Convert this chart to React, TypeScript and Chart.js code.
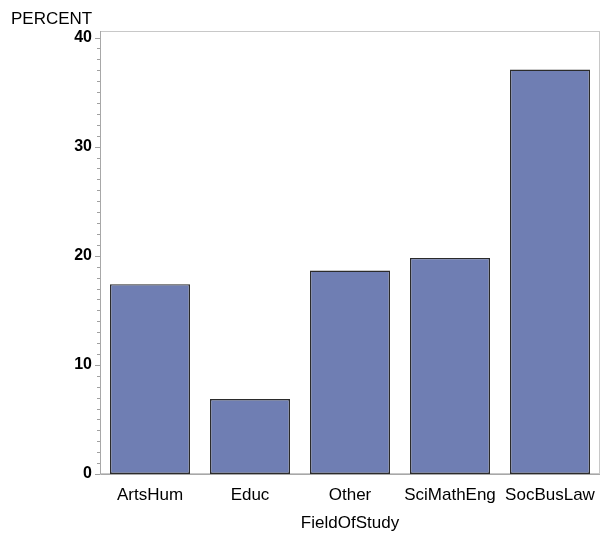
import React, { useEffect, useRef } from "react";
import { Chart, registerables } from "chart.js";

Chart.register(...registerables);

const categories = ["ArtsHum", "Educ", "Other", "SciMathEng", "SocBusLaw"];
const percents = [17.4, 6.87, 18.64, 19.8, 37.07];
const majorTicks = [0, 10, 20, 30, 40];
const yMax = 40.6;
const minorStep = 1;
const yTitle = "PERCENT";
const xTitle = "FieldOfStudy";

const FONT = "'Liberation Sans', Arial, sans-serif";

const framePlugin = {
  id: "frameTicks",
  beforeDatasetsDraw(chart: any) {
    const { ctx, chartArea } = chart;
    const y = chart.scales.y;
    ctx.save();
    ctx.strokeStyle = "#C8C8C8";
    ctx.lineWidth = 1;
    ctx.strokeRect(chartArea.left + 0.5, chartArea.top + 0.5, chartArea.right - chartArea.left - 1, chartArea.bottom - chartArea.top - 1);
    ctx.strokeStyle = "#A8A8A8";
    ctx.beginPath();
    ctx.moveTo(chartArea.left + 0.5, chartArea.top);
    ctx.lineTo(chartArea.left + 0.5, chartArea.bottom + 0.5);
    ctx.lineTo(chartArea.right, chartArea.bottom + 0.5);
    ctx.stroke();
    ctx.strokeStyle = "#A0A0A0";
    const last = majorTicks[majorTicks.length - 1];
    for (let v = 0; v <= last + 1e-9; v += minorStep) {
      const py = Math.round(y.getPixelForValue(v)) + 0.5;
      const isMajor = majorTicks.includes(Math.round(v));
      const len = isMajor ? 5 : 3;
      ctx.beginPath();
      ctx.moveTo(chartArea.left - len, py);
      ctx.lineTo(chartArea.left, py);
      ctx.stroke();
    }
    ctx.restore();
  },
  afterDraw(chart: any) {
    const { ctx } = chart;
    ctx.save();
    ctx.fillStyle = "#000";
    ctx.font = `17px ${FONT}`;
    ctx.textBaseline = "alphabetic";
    ctx.textAlign = "left";
    ctx.fillText(yTitle, 11, 24);
    ctx.restore();
  },
};

export default function App() {
  const ref = useRef<HTMLCanvasElement>(null);
  useEffect(() => {
    if (!ref.current) return;
    const chart = new Chart(ref.current, {
      type: "bar",
      data: {
        labels: categories,
        datasets: [
          {
            data: percents,
            backgroundColor: "#6F7EB3",
            borderColor: "#2B2B2B",
            borderWidth: 1.4,
            borderSkipped: false,
            barPercentage: 0.8,
            categoryPercentage: 1.0,
          },
        ],
      },
      options: {
        animation: false,
        responsive: false,
        layout: { padding: { top: 31, right: 0, left: 0, bottom: 0 } },
        plugins: {
          legend: { display: false },
          tooltip: { enabled: false },
        },
        scales: {
          x: {
            grid: { display: false, drawTicks: false },
            border: { display: false },
            ticks: {
              color: "#000",
              font: { family: FONT, size: 17 },
              padding: 11,
              maxRotation: 0,
              autoSkip: false,
            },
            title: {
              display: true,
              text: xTitle,
              color: "#000",
              font: { family: FONT, size: 17 },
              padding: { top: 4, bottom: 4 },
            },
            afterFit(scale: any) {
              scale.height = 64;
              scale.paddingLeft = 0;
              scale.paddingRight = 0;
            },
          },
          y: {
            min: 0,
            max: yMax,
            grid: { display: false, drawTicks: false },
            border: { display: false },
            afterBuildTicks(scale: any) {
              scale.ticks = majorTicks.map((v) => ({ value: v }));
            },
            ticks: {
              color: "#000",
              font: { family: FONT, size: 16, weight: "bold" },
              padding: 8,
            },
            afterFit(scale: any) {
              scale.width = 100;
              scale.paddingTop = 0;
              scale.paddingBottom = 0;
            },
          },
        },
      },
      plugins: [framePlugin],
    });
    return () => chart.destroy();
  }, []);
  return (
    <div style={{ position: "absolute", left: 0, top: 0, width: 600, height: 538, background: "#fff" }}>
      <canvas ref={ref} width={600} height={538} style={{ display: "block" }} />
    </div>
  );
}
